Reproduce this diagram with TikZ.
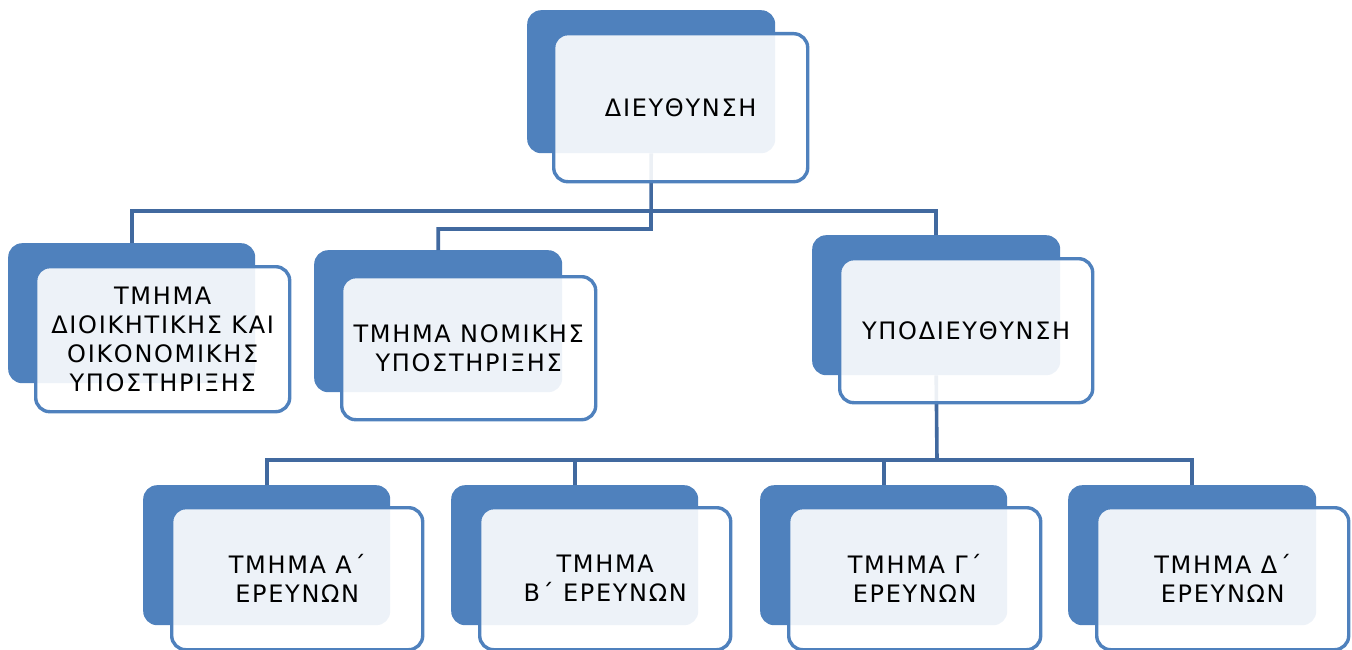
\documentclass[tikz,border=0pt]{standalone}
\usepackage{fontspec}
\setmainfont[LetterSpace=7]{DejaVu Sans}
\definecolor{boxblue}{HTML}{4F81BD}
\definecolor{lineblue}{HTML}{41699F}
\tikzset{
  backbox/.style={draw=none, fill=boxblue, rounded corners=14pt, anchor=north west, inner sep=0pt},
  frontbox/.style={draw=boxblue, line width=3.4pt, fill=white, fill opacity=0.9, text opacity=1,
    rounded corners=14pt, anchor=north west, inner sep=0pt, align=center,
    font=\fontsize{24}{29}\selectfont},
  conn/.style={draw=lineblue, line width=3.6pt},
}
\begin{document}
\begin{tikzpicture}[x=1pt,y=-1pt]
\useasboundingbox (0,0) rectangle (1352,650);
% back boxes
\node[backbox, minimum width=248pt, minimum height=143pt] (topB) at (527,10) {};
\node[backbox, minimum width=247pt, minimum height=140pt] (b1B) at (8,243) {};
\node[backbox, minimum width=248pt, minimum height=142pt] (b2B) at (314,250) {};
\node[backbox, minimum width=248pt, minimum height=140pt] (subB) at (812,235) {};
\node[backbox, minimum width=247pt, minimum height=140pt] (aB) at (143,485) {};
\node[backbox, minimum width=247pt, minimum height=140pt] (bB) at (451,485) {};
\node[backbox, minimum width=247pt, minimum height=140pt] (cB) at (760,485) {};
\node[backbox, minimum width=248pt, minimum height=140pt] (dB) at (1068,485) {};
% connectors
\coordinate (j1) at (651,211);
\coordinate (j2) at (651,229);
\coordinate (j3) at (937,460);
\draw[conn] (topB.south) -- (j2) -| (b2B.north);
\draw[conn] (b1B.north) |- (j1) -| (subB.north);
\draw[conn] (subB.south) -- (j3);
\draw[conn] (aB.north) |- (j3) -| (dB.north);
\draw[conn] (bB.north) -- (bB.north |- j3);
\draw[conn] (cB.north) -- (cB.north |- j3);
% front boxes
\node[frontbox, minimum width=254pt, minimum height=148pt] (top) at (552,32) {ΔΙΕΥΘΥΝΣΗ};
\node[frontbox, minimum width=254pt, minimum height=145pt] (b1) at (34,265) {ΤΜΗΜΑ\\ΔΙΟΙΚΗΤΙΚΗΣ ΚΑΙ\\ΟΙΚΟΝΟΜΙΚΗΣ\\ΥΠΟΣΤΗΡΙΞΗΣ};
\node[frontbox, minimum width=254pt, minimum height=143pt] (b2) at (340,275) {ΤΜΗΜΑ ΝΟΜΙΚΗΣ\\ΥΠΟΣΤΗΡΙΞΗΣ};
\node[frontbox, minimum width=253pt, minimum height=144pt] (sub) at (838,257) {ΥΠΟΔΙΕΥΘΥΝΣΗ};
\node[frontbox, minimum width=251pt, minimum height=142pt] (a) at (170,506) {ΤΜΗΜΑ Α΄\\ΕΡΕΥΝΩΝ};
\node[frontbox, minimum width=251pt, minimum height=142pt] (b) at (478,506) {ΤΜΗΜΑ\\Β΄ ΕΡΕΥΝΩΝ};
\node[frontbox, minimum width=252pt, minimum height=142pt] (c) at (787,506) {ΤΜΗΜΑ Γ΄\\ΕΡΕΥΝΩΝ};
\node[frontbox, minimum width=252pt, minimum height=142pt] (d) at (1095,506) {ΤΜΗΜΑ Δ΄\\ΕΡΕΥΝΩΝ};
\end{tikzpicture}
\end{document}
